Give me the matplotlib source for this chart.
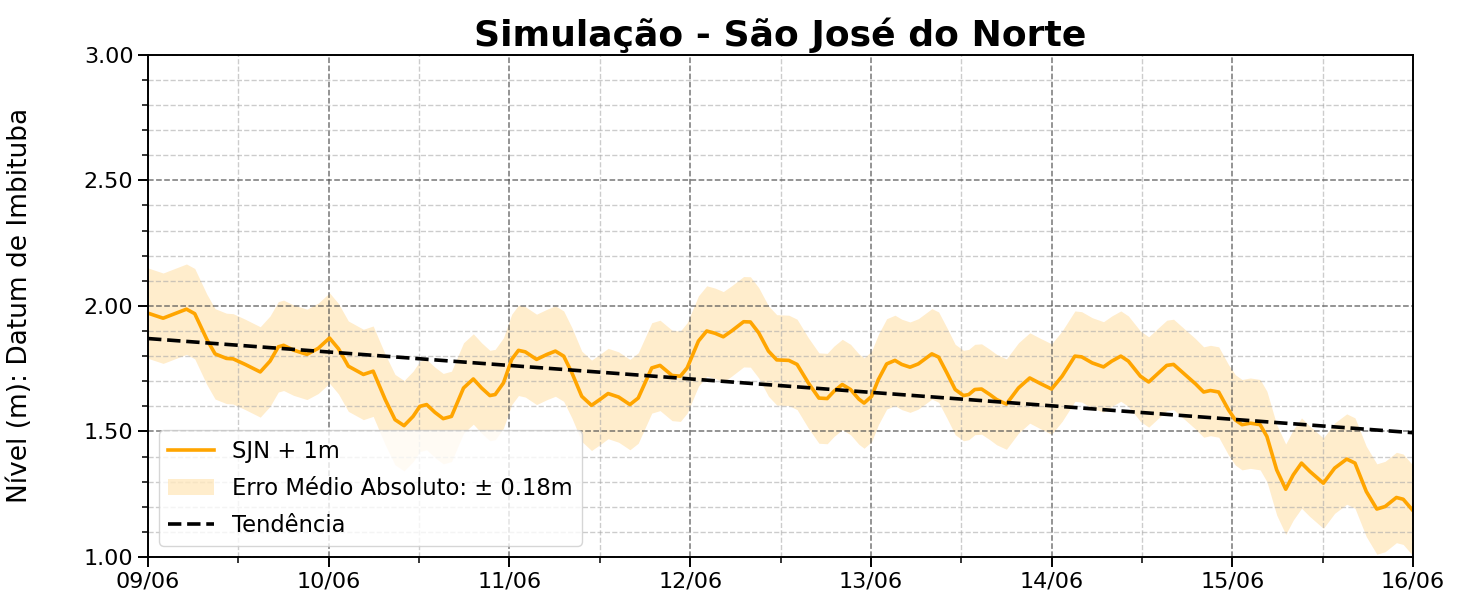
import numpy as np
import pandas as pd
import matplotlib
matplotlib.use("Agg")
import matplotlib.pyplot as plt
import matplotlib.dates as mdates

# Hours since 09/06 00:00 and simulated level (SJN + 1m)
hours = [0.0, 2.0, 5.1, 6.2, 7.8, 8.9, 10.4, 11.3, 12.9, 14.9, 16.2, 17.3, 18.0, 19.3,
         21.1, 22.6, 24.1, 25.3, 26.6, 28.6, 29.9, 31.5, 32.8, 34.0, 35.2, 36.1,
         37.0, 38.1, 39.2, 40.3, 41.9, 43.2, 44.3, 45.4, 46.1, 47.2, 48.3, 49.2,
         50.1, 51.6, 53.0, 54.1, 55.2, 56.3, 57.6, 58.9, 60.0, 61.1, 62.5, 64.0,
         65.1, 66.9, 68.0, 69.6, 70.7, 71.6, 73.1, 74.2, 75.3, 76.4, 77.5, 79.1,
         80.0, 81.1, 82.4, 83.5, 85.1, 86.2, 87.7, 89.1, 90.2, 91.1, 92.2, 93.3,
         94.4, 95.1, 96.1, 97.0, 98.1, 99.2, 100.1, 101.2, 102.3, 104.1, 105.0,
         106.1, 107.2, 108.3, 109.0, 109.8, 110.7, 111.8, 112.7, 114.0, 115.6,
         117.1, 118.5, 120.0, 121.4, 123.1, 124.0, 125.4, 126.9, 128.0, 129.2,
         130.2, 131.8, 132.9, 134.2, 135.3, 136.2, 137.7, 139.1, 140.2, 141.1,
         142.2, 143.5, 144.4, 145.3, 146.4, 147.7, 148.6, 149.9, 151.1, 152.1,
         153.2, 154.3, 156.1, 157.6, 159.2, 160.3, 161.8, 163.2, 164.3, 165.8,
         166.7, 168.0]
level = [1.971, 1.951, 1.987, 1.969, 1.867, 1.809, 1.791, 1.789, 1.767, 1.737, 1.780,
         1.837, 1.843, 1.824, 1.807, 1.831, 1.872, 1.829, 1.760, 1.727, 1.740,
         1.627, 1.547, 1.523, 1.560, 1.600, 1.607, 1.576, 1.551, 1.560, 1.673,
         1.709, 1.673, 1.643, 1.647, 1.693, 1.787, 1.823, 1.817, 1.787, 1.807,
         1.820, 1.800, 1.733, 1.640, 1.604, 1.627, 1.651, 1.637, 1.607, 1.633,
         1.753, 1.763, 1.723, 1.720, 1.753, 1.860, 1.900, 1.891, 1.877, 1.900,
         1.937, 1.936, 1.893, 1.820, 1.785, 1.783, 1.767, 1.693, 1.633, 1.631,
         1.660, 1.687, 1.667, 1.629, 1.613, 1.640, 1.707, 1.769, 1.783, 1.767,
         1.756, 1.769, 1.809, 1.796, 1.733, 1.667, 1.643, 1.647, 1.667, 1.669,
         1.647, 1.627, 1.609, 1.673, 1.713, 1.691, 1.669, 1.720, 1.800, 1.797,
         1.773, 1.757, 1.780, 1.800, 1.780, 1.720, 1.697, 1.733, 1.763, 1.767,
         1.727, 1.690, 1.657, 1.663, 1.657, 1.586, 1.546, 1.527, 1.533, 1.527,
         1.480, 1.347, 1.270, 1.327, 1.374, 1.341, 1.294, 1.354, 1.390, 1.374,
         1.261, 1.191, 1.201, 1.237, 1.230, 1.185]
mae = 0.18
trend_start, trend_end = 1.870, 1.495

start = pd.Timestamp("2024-06-09 00:00")
end = pd.Timestamp("2024-06-16 00:00")
times = start + pd.to_timedelta(hours, unit="h")
lev = np.array(level)

fig = plt.figure(figsize=(14.63, 5.97), dpi=100)
ax = fig.add_axes([0.1012, 0.067, 0.8646, 0.8412])

ax.fill_between(times, lev - mae, lev + mae, color="orange", alpha=0.2, lw=0,
                label=f"Erro Médio Absoluto: ± {mae:.2f}m")
ax.plot(times, lev, color="orange", lw=2.6, label="SJN + 1m")
ax.plot([start, end], [trend_start, trend_end], color="black", ls="--", lw=2.6,
        label="Tendência")

ax.set_xlim(start, end)
ax.set_ylim(1.0, 3.0)
ax.set_yticks(np.arange(1.0, 3.01, 0.5))
ax.yaxis.set_minor_locator(matplotlib.ticker.MultipleLocator(0.1))
ax.yaxis.set_major_formatter(matplotlib.ticker.FormatStrFormatter("%.2f"))
ax.xaxis.set_major_locator(mdates.DayLocator())
ax.xaxis.set_minor_locator(mdates.HourLocator(byhour=[12]))
ax.xaxis.set_major_formatter(mdates.DateFormatter("%d/%m"))

ax.grid(which="major", ls="--", color="#555555", alpha=0.8, lw=1.1)
ax.grid(which="minor", ls="--", color="#aaaaaa", alpha=0.6, lw=1.0)
ax.tick_params(which="major", labelsize=16, length=7, width=1.4)
ax.tick_params(which="minor", length=4, width=1.1)
for s in ax.spines.values():
    s.set_linewidth(1.4)

ax.set_title("Simulação - São José do Norte", fontsize=26, fontweight="bold", pad=6)
ax.set_ylabel("Nível (m): Datum de Imbituba", fontsize=19)
ax.yaxis.set_label_coords(-0.091, 0.5)

h, l = ax.get_legend_handles_labels()
order = [1, 0, 2]
ax.legend([h[i] for i in order], [l[i] for i in order], loc="lower left",
          fontsize=16.3, framealpha=0.8, labelspacing=0.62)

fig.savefig("out.png", dpi=100)
